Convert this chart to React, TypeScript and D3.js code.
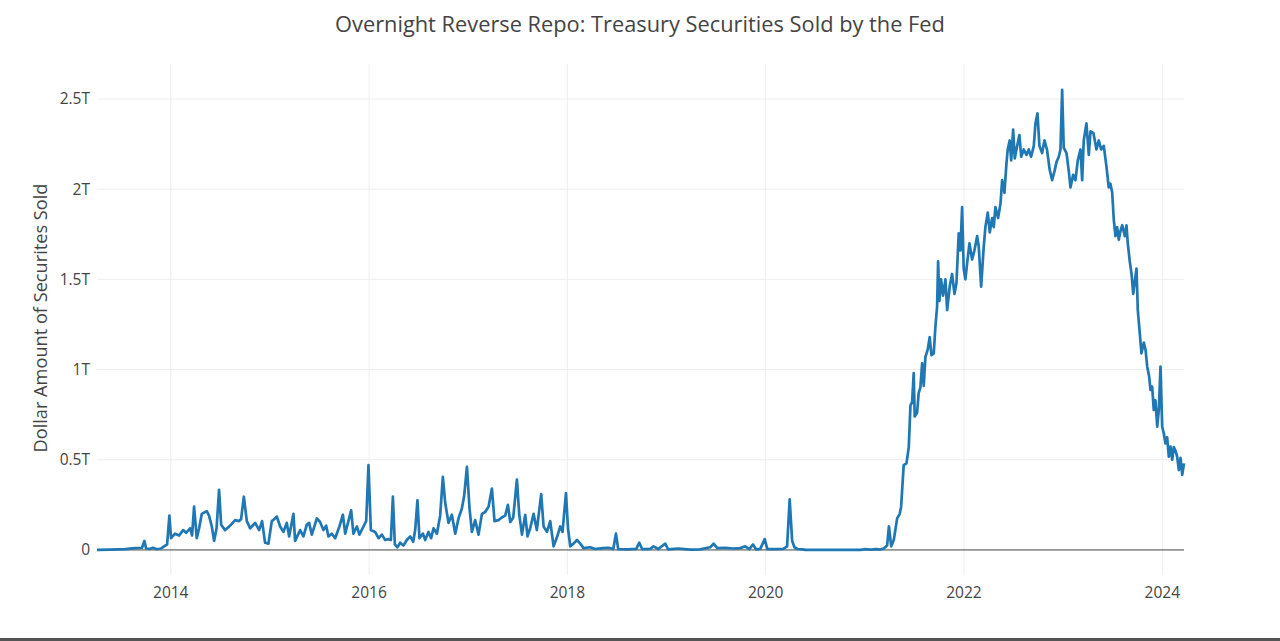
import React from "react";
import * as d3 from "d3";

const chartTitle = "Overnight Reverse Repo: Treasury Securities Sold by the Fed";
const yAxisTitle = "Dollar Amount of Securites Sold";

const xTickYears = [2014, 2016, 2018, 2020, 2022, 2024];
const yTickValues = [0, 0.5, 1, 1.5, 2, 2.5];
const yTickLabels = ["0", "0.5T", "1T", "1.5T", "2T", "2.5T"];

// [decimal year, trillions of dollars]
const repoSeries: [number, number][] = [
  [2013.256, 0], [2013.388, 0.002], [2013.539, 0.004], [2013.64, 0.01], [2013.71, 0.012],
  [2013.734, 0.05], [2013.751, 0.008], [2013.791, 0.006], [2013.821, 0.012], [2013.862, 0.004],
  [2013.902, 0.008], [2013.932, 0.02], [2013.963, 0.03], [2013.986, 0.19], [2014.003, 0.065],
  [2014.043, 0.09], [2014.084, 0.08], [2014.124, 0.11], [2014.154, 0.095], [2014.195, 0.12],
  [2014.215, 0.08], [2014.235, 0.24], [2014.262, 0.065], [2014.286, 0.12], [2014.313, 0.2],
  [2014.363, 0.215], [2014.386, 0.19], [2014.414, 0.13], [2014.437, 0.05], [2014.462, 0.12],
  [2014.487, 0.333], [2014.508, 0.14], [2014.548, 0.11], [2014.578, 0.125], [2014.608, 0.14],
  [2014.649, 0.165], [2014.689, 0.16], [2014.709, 0.17], [2014.737, 0.295], [2014.767, 0.16],
  [2014.8, 0.12], [2014.851, 0.15], [2014.891, 0.11], [2014.921, 0.16], [2014.951, 0.04],
  [2014.985, 0.035], [2015.019, 0.16], [2015.042, 0.17], [2015.07, 0.185], [2015.103, 0.13],
  [2015.136, 0.1], [2015.17, 0.15], [2015.194, 0.075], [2015.237, 0.2], [2015.254, 0.05],
  [2015.305, 0.11], [2015.338, 0.075], [2015.372, 0.14], [2015.395, 0.15], [2015.423, 0.085],
  [2015.473, 0.175], [2015.506, 0.155], [2015.54, 0.11], [2015.567, 0.135], [2015.59, 0.075],
  [2015.624, 0.09], [2015.658, 0.065], [2015.701, 0.13], [2015.736, 0.195], [2015.759, 0.09],
  [2015.792, 0.16], [2015.819, 0.22], [2015.842, 0.09], [2015.877, 0.13], [2015.903, 0.085],
  [2015.943, 0.13], [2015.971, 0.16], [2015.994, 0.47], [2016.018, 0.11], [2016.061, 0.1],
  [2016.095, 0.065], [2016.129, 0.085], [2016.162, 0.055], [2016.193, 0.06], [2016.22, 0.055],
  [2016.24, 0.295], [2016.26, 0.03], [2016.286, 0.015], [2016.314, 0.04], [2016.347, 0.025],
  [2016.381, 0.055], [2016.415, 0.075], [2016.445, 0.045], [2016.465, 0.11], [2016.488, 0.275],
  [2016.508, 0.065], [2016.543, 0.09], [2016.566, 0.055], [2016.599, 0.1], [2016.626, 0.065],
  [2016.65, 0.12], [2016.684, 0.09], [2016.717, 0.19], [2016.744, 0.405], [2016.768, 0.26],
  [2016.801, 0.15], [2016.835, 0.195], [2016.869, 0.09], [2016.902, 0.175], [2016.936, 0.23],
  [2016.959, 0.3], [2016.987, 0.46], [2017.013, 0.23], [2017.037, 0.1], [2017.07, 0.165],
  [2017.104, 0.085], [2017.138, 0.2], [2017.171, 0.21], [2017.205, 0.24], [2017.239, 0.34],
  [2017.265, 0.16], [2017.305, 0.165], [2017.338, 0.18], [2017.373, 0.19], [2017.4, 0.25],
  [2017.424, 0.155], [2017.454, 0.18], [2017.491, 0.39], [2017.514, 0.2], [2017.542, 0.085],
  [2017.575, 0.195], [2017.598, 0.075], [2017.625, 0.12], [2017.659, 0.2], [2017.692, 0.11],
  [2017.736, 0.31], [2017.76, 0.13], [2017.794, 0.1], [2017.827, 0.16], [2017.861, 0.02],
  [2017.895, 0.07], [2017.928, 0.13], [2017.951, 0.1], [2017.986, 0.315], [2018.006, 0.12],
  [2018.029, 0.02], [2018.062, 0.035], [2018.097, 0.055], [2018.13, 0.035], [2018.163, 0.01],
  [2018.231, 0.015], [2018.281, 0.005], [2018.352, 0.01], [2018.415, 0.012], [2018.463, 0.005],
  [2018.49, 0.09], [2018.513, 0.004], [2018.614, 0.003], [2018.695, 0.006], [2018.725, 0.04],
  [2018.755, 0.004], [2018.836, 0.006], [2018.869, 0.02], [2018.917, 0.005], [2018.987, 0.035],
  [2019.017, 0.003], [2019.118, 0.008], [2019.239, 0.002], [2019.34, 0.003], [2019.441, 0.015],
  [2019.475, 0.035], [2019.512, 0.01], [2019.592, 0.012], [2019.673, 0.008], [2019.744, 0.01],
  [2019.794, 0.02], [2019.835, 0.005], [2019.872, 0.03], [2019.905, 0.003], [2019.946, 0.006],
  [2019.99, 0.06], [2020.017, 0.004], [2020.098, 0.005], [2020.179, 0.006], [2020.216, 0.02],
  [2020.242, 0.28], [2020.267, 0.05], [2020.29, 0.015], [2020.32, 0.005], [2020.371, 0.003],
  [2020.401, 0], [2020.956, 0], [2020.996, 0.004], [2021.057, 0.002], [2021.117, 0.004],
  [2021.158, 0.002], [2021.191, 0.008], [2021.225, 0.025], [2021.243, 0.13], [2021.266, 0.02],
  [2021.292, 0.055], [2021.326, 0.175], [2021.352, 0.2], [2021.366, 0.24], [2021.392, 0.47],
  [2021.42, 0.48], [2021.443, 0.57], [2021.46, 0.8], [2021.477, 0.82], [2021.493, 0.98],
  [2021.503, 0.74], [2021.527, 0.76], [2021.543, 0.87], [2021.56, 0.9], [2021.578, 1.035],
  [2021.594, 0.91], [2021.611, 1.07], [2021.634, 1.11], [2021.654, 1.18], [2021.672, 1.08],
  [2021.695, 1.09], [2021.712, 1.24], [2021.729, 1.35], [2021.739, 1.6], [2021.752, 1.38],
  [2021.769, 1.5], [2021.789, 1.41], [2021.813, 1.5], [2021.83, 1.33], [2021.856, 1.46],
  [2021.88, 1.53], [2021.904, 1.42], [2021.924, 1.48], [2021.947, 1.755], [2021.964, 1.66],
  [2021.981, 1.9], [2021.997, 1.56], [2022.014, 1.5], [2022.032, 1.59], [2022.055, 1.7],
  [2022.082, 1.61], [2022.105, 1.66], [2022.133, 1.74], [2022.149, 1.68], [2022.173, 1.46],
  [2022.199, 1.68], [2022.216, 1.79], [2022.24, 1.87], [2022.26, 1.76], [2022.284, 1.84],
  [2022.3, 1.79], [2022.317, 1.9], [2022.344, 1.84], [2022.368, 1.92], [2022.385, 2.05],
  [2022.408, 1.98], [2022.428, 2.14], [2022.441, 2.22], [2022.461, 2.27], [2022.476, 2.16],
  [2022.496, 2.33], [2022.512, 2.17], [2022.536, 2.24], [2022.559, 2.3], [2022.577, 2.18],
  [2022.603, 2.22], [2022.63, 2.19], [2022.653, 2.22], [2022.677, 2.18], [2022.704, 2.24],
  [2022.721, 2.365], [2022.741, 2.42], [2022.761, 2.24], [2022.788, 2.2], [2022.812, 2.27],
  [2022.837, 2.22], [2022.865, 2.106], [2022.889, 2.05], [2022.913, 2.1], [2022.933, 2.15],
  [2022.956, 2.18], [2022.973, 2.22], [2022.99, 2.55], [2023.006, 2.23], [2023.034, 2.2],
  [2023.057, 2.1], [2023.074, 2.01], [2023.101, 2.08], [2023.124, 2.05], [2023.148, 2.16],
  [2023.175, 2.22], [2023.192, 2.05], [2023.208, 2.27], [2023.235, 2.365], [2023.259, 2.19],
  [2023.276, 2.32], [2023.306, 2.31], [2023.336, 2.22], [2023.359, 2.27], [2023.384, 2.22],
  [2023.41, 2.24], [2023.437, 2.125], [2023.46, 2.01], [2023.477, 2.03], [2023.495, 1.98],
  [2023.511, 1.83], [2023.528, 1.74], [2023.545, 1.79], [2023.561, 1.72], [2023.579, 1.77],
  [2023.596, 1.8], [2023.622, 1.74], [2023.639, 1.8], [2023.652, 1.7], [2023.672, 1.6],
  [2023.69, 1.53], [2023.707, 1.42], [2023.723, 1.49], [2023.74, 1.56], [2023.753, 1.33],
  [2023.773, 1.2], [2023.79, 1.09], [2023.814, 1.15], [2023.831, 1.11], [2023.848, 1.016],
  [2023.868, 0.96], [2023.881, 0.887], [2023.898, 0.905], [2023.914, 0.776], [2023.931, 0.83],
  [2023.949, 0.683], [2023.965, 0.776], [2023.982, 1.016], [2023.999, 0.683], [2024.015, 0.647],
  [2024.032, 0.59], [2024.049, 0.625], [2024.066, 0.517], [2024.083, 0.573], [2024.1, 0.5],
  [2024.116, 0.57], [2024.133, 0.55], [2024.15, 0.517], [2024.167, 0.443], [2024.184, 0.51],
  [2024.201, 0.416], [2024.219, 0.48],
];

const W = 1280;
const H = 641;
const plot = { left: 97, right: 1184, top: 64, bottom: 575 };
const FONT = '"Open Sans", verdana, arial, sans-serif';

export default function App() {
  const x = d3
    .scaleLinear()
    .domain(d3.extent(repoSeries, (d) => d[0]) as [number, number])
    .range([plot.left, plot.right]);
  const y = d3.scaleLinear().domain([-0.139, 2.694]).range([plot.bottom, plot.top]);

  const line = d3
    .line<[number, number]>()
    .x((d) => x(d[0]))
    .y((d) => y(d[1]));

  return (
    <svg
      width={W}
      height={H}
      style={{ position: "fixed", left: 0, top: 0, background: "#fff" }}
      fontFamily={FONT}
    >
      <rect x={0} y={0} width={W} height={H} fill="#fff" />
      {xTickYears.map((yr) => (
        <line
          key={"gx" + yr}
          x1={x(yr)}
          x2={x(yr)}
          y1={plot.top}
          y2={plot.bottom}
          stroke="#eeeeee"
          strokeWidth={1}
        />
      ))}
      {yTickValues
        .filter((v) => v !== 0)
        .map((v) => (
          <line
            key={"gy" + v}
            x1={plot.left}
            x2={plot.right}
            y1={y(v)}
            y2={y(v)}
            stroke="#eeeeee"
            strokeWidth={1}
          />
        ))}
      <line x1={plot.left} x2={plot.right} y1={y(0)} y2={y(0)} stroke="#444" strokeWidth={1} />
      <path
        d={line(repoSeries) || ""}
        fill="none"
        stroke="#1f77b4"
        strokeWidth={2.7}
        strokeLinejoin="round"
      />
      {yTickValues.map((v, i) => (
        <text
          key={"ty" + v}
          x={90}
          y={y(v)}
          dy="0.35em"
          textAnchor="end"
          fontSize={15.5}
          fill="#444"
        >
          {yTickLabels[i]}
        </text>
      ))}
      {xTickYears.map((yr) => (
        <text
          key={"tx" + yr}
          x={x(yr)}
          y={593}
          dy="0.35em"
          textAnchor="middle"
          fontSize={15.5}
          fill="#444"
        >
          {yr}
        </text>
      ))}
      <text x={640} y={24} dy="0.35em" textAnchor="middle" fontSize={21.8} fill="#444">
        {chartTitle}
      </text>
      <text
        transform={`translate(41, 318) rotate(-90)`}
        dy="0.35em"
        textAnchor="middle"
        fontSize={18.2}
        fill="#444"
      >
        {yAxisTitle}
      </text>
      <rect x={0} y={638} width={W} height={3} fill="#555" />
    </svg>
  );
}
